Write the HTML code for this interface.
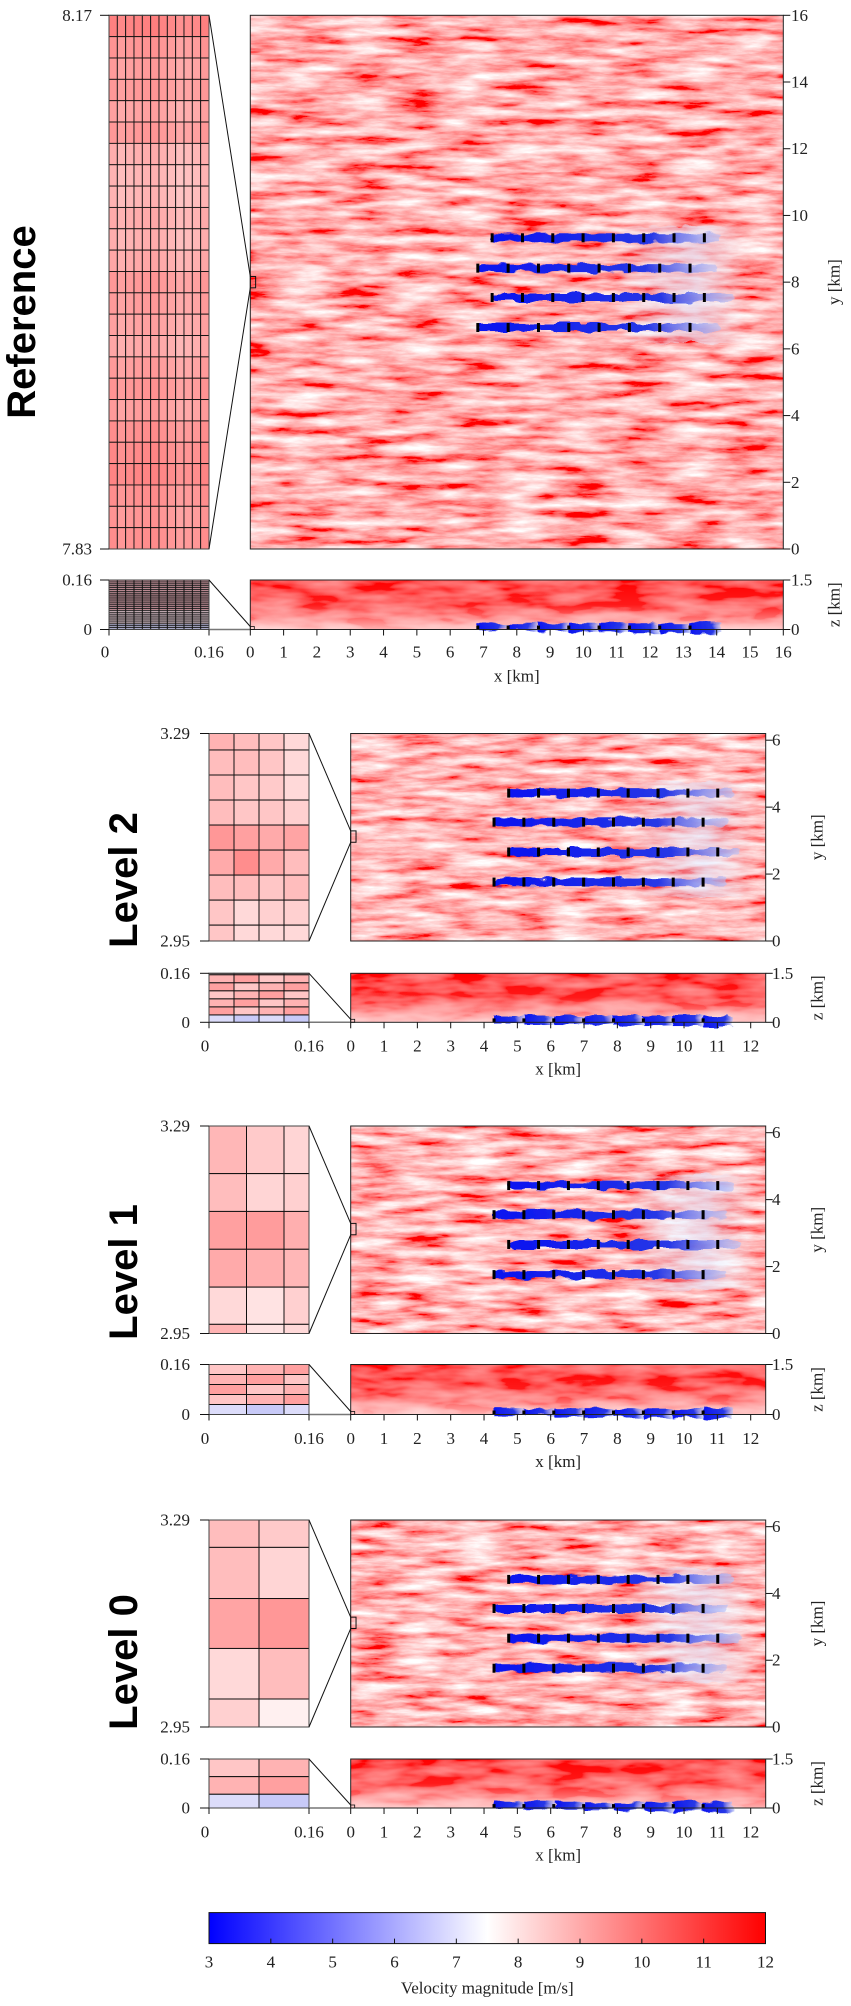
<!DOCTYPE html>
<html><head><meta charset="utf-8">
<style>
html,body{margin:0;padding:0;background:#fff;}
svg{display:block;}
.tk{font-family:"Liberation Serif",serif;font-size:17px;fill:#222;}
.lab{font-family:"Liberation Sans",sans-serif;font-weight:bold;font-size:40px;fill:#000;}
</style></head>
<body>
<svg id="fig" width="851" height="2006" viewBox="0 0 851 2006" xmlns="http://www.w3.org/2000/svg">
<defs>
  <filter id="fieldA" x="0" y="0" width="100%" height="100%" filterUnits="objectBoundingBox">
    <feTurbulence type="fractalNoise" baseFrequency="0.018 0.11" numOctaves="5" seed="3"/>
    <feColorMatrix type="matrix" values="0 0 0 0 1  1.7 0 0 0 -0.42  1.7 0 0 0 -0.42  0 0 0 0 1"/>
  </filter>
  <filter id="fieldB" x="0" y="0" width="100%" height="100%" filterUnits="objectBoundingBox">
    <feTurbulence type="fractalNoise" baseFrequency="0.02 0.12" numOctaves="5" seed="8"/>
    <feColorMatrix type="matrix" values="0 0 0 0 1  1.7 0 0 0 -0.38  1.7 0 0 0 -0.38  0 0 0 0 1"/>
  </filter>
  <filter id="zfield" x="0" y="0" width="100%" height="100%" filterUnits="objectBoundingBox">
    <feTurbulence type="fractalNoise" baseFrequency="0.02 0.08" numOctaves="3" seed="5"/>
    <feColorMatrix type="matrix" values="0 0 0 0 1  0.5 0 0 0 -0.17  0.5 0 0 0 -0.17  0 0 0 0 1"/>
  </filter>
  <filter id="wiggle" x="-5%" y="-100%" width="110%" height="300%">
    <feTurbulence type="fractalNoise" baseFrequency="0.06 0.15" numOctaves="2" seed="2" result="n"/>
    <feDisplacementMap in="SourceGraphic" in2="n" scale="8" xChannelSelector="R" yChannelSelector="G"/>
  </filter>
  <linearGradient id="wakeGrad" x1="0" x2="1" y1="0" y2="0">
    <stop offset="0" stop-color="#0a14f0"/>
    <stop offset="0.7" stop-color="#2838e6"/>
    <stop offset="1" stop-color="#b8c0f6" stop-opacity="0.6"/>
  </linearGradient>
  <linearGradient id="plumeGrad" x1="0" x2="1" y1="0" y2="0">
    <stop offset="0" stop-color="#dfe2fb" stop-opacity="0"/>
    <stop offset="0.6" stop-color="#e4e6fb" stop-opacity="0.8"/>
    <stop offset="1" stop-color="#eef0fc" stop-opacity="0"/>
  </linearGradient>
  <linearGradient id="zbottom" x1="0" x2="0" y1="0" y2="1">
    <stop offset="0" stop-color="#fff" stop-opacity="0"/>
    <stop offset="0.5" stop-color="#fff" stop-opacity="0.1"/>
    <stop offset="1" stop-color="#fff" stop-opacity="0.7"/>
  </linearGradient>
  <linearGradient id="cbar" x1="0" x2="1" y1="0" y2="0">
    <stop offset="0" stop-color="#0000ff"/>
    <stop offset="0.5" stop-color="#ffffff"/>
    <stop offset="1" stop-color="#ff0000"/>
  </linearGradient>
</defs>
<g id="root"></g>
</svg>
<script>
// ---------- data ----------
const refRowVals = [0.62,0.52,0.48,0.5,0.45,0.5,0.38,0.35,0.35,0.4,0.38,0.42,0.5,0.48,0.45,0.42,0.48,0.52,0.48,0.55,0.58,0.6,0.55,0.52,0.55];
const refColVals = [0.05,0.0,0.02,0.04,0.05,0.06,0.03,0.0,-0.04,-0.02,0.0,0.05];
const refZRows = 26;
const lvl2Cells = [[0.4,0.35,0.3,0.2],[0.35,0.35,0.3,0.2],[0.35,0.3,0.28,0.2],[0.35,0.3,0.3,0.25],[0.55,0.5,0.45,0.48],[0.45,0.6,0.45,0.35],[0.35,0.35,0.3,0.35],[0.3,0.2,0.25,0.25],[0.3,0.2,0.2,0.2]];
const lvl2RowEdges = [3.29,3.263,3.222,3.181,3.140,3.099,3.058,3.017,2.976,2.95];
const lvl1Cells = [[0.38,0.28,0.22],[0.35,0.22,0.25],[0.5,0.52,0.42],[0.45,0.42,0.38],[0.2,0.15,0.25],[0.4,0.15,0.2]];
const lvl1RowEdges = [3.29,3.212,3.150,3.088,3.026,2.965,2.95];
const lvl0Cells = [[0.35,0.28],[0.35,0.22],[0.48,0.55],[0.2,0.35],[0.25,0.08]];
const lvl0RowEdges = [3.29,3.245,3.161,3.079,2.996,2.95];
const refTurbRows = [9.33,8.42,7.54,6.64];
const refTurbStart = [7.26,6.83,7.26,6.83];
const refWakeEnd = [14.1,14.0,14.5,14.1];
const lvlTurbRows = [4.42,3.55,2.66,1.76];
const lvlTurbStart = [4.74,4.3,4.74,4.3];
const lvlWakeEnd = [11.5,11.3,11.7,11.3];
const turbCount = 8;
const refSpacing = 0.91;
const lvlSpacing = 0.896;
const cbarTicks = [3,4,5,6,7,8,9,10,11,12];
const refXTicks = [0,1,2,3,4,5,6,7,8,9,10,11,12,13,14,15,16];
const refYTicks = [0,2,4,6,8,10,12,14,16];
const lvlXTicks = [0,1,2,3,4,5,6,7,8,9,10,11,12];
const lvlYTicks = [0,2,4,6];

const NS="http://www.w3.org/2000/svg";
const root=document.getElementById('root');
function mk(tag,attrs,parent){const e=document.createElementNS(NS,tag);for(const k in attrs)e.setAttribute(k,attrs[k]);(parent||root).appendChild(e);return e;}
function txt(s,x,y,cls,anchor,parent){const t=mk('text',{x:x,y:y,'class':cls,'text-anchor':anchor||'middle','dominant-baseline':'central'},parent);t.textContent=s;return t;}
function pink(v){const g=Math.round(255-v*190);return `rgb(255,${g},${g})`;}

const panels=[
 {name:'reference',label:'Reference',lx:22,ly:322,ix:109,iw:100,mx:250.3,mw:533,xmax:16,ymax:16,top:15.3,bot:549,ztop:580,zbot:629.5,tky:652,xly:676,yl0:'7.83',yl1:'8.17',ylx:92,rlx:791,ytx:834,xt:refXTicks,yt:refYTicks,rows:refTurbRows,start:refTurbStart,end:refWakeEnd,sp:refSpacing,cy:8,filt:'fieldA'},
 {name:'level-2',label:'Level 2',lx:124,ly:880,ix:209,iw:100,mx:350.7,mw:415,xmax:12.45,ymax:6.2,top:733.5,bot:941,ztop:973.3,zbot:1022.3,tky:1046,xly:1069,yl0:'2.95',yl1:'3.29',ylx:190,rlx:772,ytx:817,xt:lvlXTicks,yt:lvlYTicks,rows:lvlTurbRows,start:lvlTurbStart,end:lvlWakeEnd,sp:lvlSpacing,cy:3.12,cells:lvl2Cells,edges:lvl2RowEdges,zrows:[0.03,0.16,0.16,0.16,0.16,0.16],filt:'fieldB'},
 {name:'level-1',label:'Level 1',lx:124,ly:1272,ix:209,iw:100,mx:350.7,mw:415,xmax:12.45,ymax:6.2,top:1126,bot:1333.5,ztop:1364.5,zbot:1414.5,tky:1438.5,xly:1461.5,yl0:'2.95',yl1:'3.29',ylx:190,rlx:772,ytx:817,xt:lvlXTicks,yt:lvlYTicks,rows:lvlTurbRows,start:lvlTurbStart,end:lvlWakeEnd,sp:lvlSpacing,cy:3.12,cells:lvl1Cells,edges:lvl1RowEdges,cols:[0.375,0.75],zrows:[0.2,0.2,0.2,0.2],filt:'fieldB'},
 {name:'level-0',label:'Level 0',lx:124,ly:1662,ix:209,iw:100,mx:350.7,mw:415,xmax:12.45,ymax:6.2,top:1520,bot:1727,ztop:1759,zbot:1808,tky:1832,xly:1855,yl0:'2.95',yl1:'3.29',ylx:190,rlx:772,ytx:817,xt:lvlXTicks,yt:lvlYTicks,rows:lvlTurbRows,start:lvlTurbStart,end:lvlWakeEnd,sp:lvlSpacing,cy:3.12,cells:lvl0Cells,edges:lvl0RowEdges,zrows:[0.35,0.35],filt:'fieldB'}
];

panels.forEach(p=>{
  const g=mk('g',{});
  
  
  const X=v=>p.mx+v/p.xmax*p.mw;
  const Y=v=>p.bot-v/p.ymax*(p.bot-p.top);
  const Z=v=>p.zbot-v/1.5*(p.zbot-p.ztop);
  const lt=mk('text',{x:p.lx,y:p.ly,'class':'lab','text-anchor':'middle','dominant-baseline':'central',transform:`rotate(-90 ${p.lx} ${p.ly})`},g);
  lt.textContent=p.label;
  
  
  const mf=mk('g',{},g);
  
  
  mk('rect',{x:p.mx,y:p.top,width:p.mw,height:p.bot-p.top,fill:'#f88',filter:`url(#${p.filt})`},mf);
  const pyTop=Y(p.rows[0]+0.35), pyBot=Y(p.rows[3]-0.45);
  const ps=p.start[0]+4*p.sp, pe=p.end[2]+0.5;
  mk('rect',{x:X(ps),y:pyTop,width:X(pe)-X(ps),height:pyBot-pyTop,rx:12,fill:'url(#plumeGrad)',filter:'url(#wiggle)',opacity:0.8},mf);
  p.rows.forEach((ry,i)=>{
    const x0=X(p.start[i]),x1=X(p.end[i]);
    const w=mk('rect',{x:x0,y:Y(ry)-4,width:x1-x0,height:8,rx:3,fill:'url(#wakeGrad)',filter:'url(#wiggle)'},mf);
    
    
    for(let k=0;k<turbCount;k++){
      const tb=mk('rect',{x:X(p.start[i]+k*p.sp)-1.5,y:Y(ry)-4.5,width:3,height:9,fill:'#000'},mf);
      
      
    }
  });
  mk('rect',{x:p.mx,y:p.top,width:p.mw,height:p.bot-p.top,fill:'none',stroke:'#222','stroke-width':1},mf);
  const zf=mk('g',{},g);
  
  
  mk('rect',{x:p.mx,y:p.ztop,width:p.mw,height:p.zbot-p.ztop,fill:'#f22',filter:'url(#zfield)'},zf);
  mk('rect',{x:p.mx,y:p.ztop,width:p.mw,height:p.zbot-p.ztop,fill:'url(#zbottom)'},zf);
  for(let k=0;k<turbCount;k++){
    const x0=X(p.start[1]+k*p.sp);
    mk('rect',{x:x0,y:Z(0.1)-3,width:X(p.sp)-p.mx,height:7+k*0.5,fill:'url(#wakeGrad)',filter:'url(#wiggle)'},zf);
  }
  for(let k=0;k<turbCount;k++){
    const tb=mk('rect',{x:X(p.start[1]+k*p.sp)-1.5,y:Z(0.12),width:3,height:Z(0)-Z(0.12),fill:'#000'},zf);
    
    
  }
  mk('rect',{x:p.mx,y:p.ztop,width:p.mw,height:p.zbot-p.ztop,fill:'none',stroke:'#222','stroke-width':1},zf);
  const ig=mk('g',{},g);
  
  
  const IY=v=>p.bot-(v-parseFloat(p.yl0))/(parseFloat(p.yl1)-parseFloat(p.yl0))*(p.bot-p.top);
  if(!p.cells){
    const rh=(p.bot-p.top)/refRowVals.length, cw=p.iw/refColVals.length;
    refRowVals.forEach((rv,r)=>refColVals.forEach((cv,c)=>{
      mk('rect',{x:p.ix+c*cw,y:p.top+r*rh,width:cw,height:rh,fill:pink(rv+cv),stroke:'#111','stroke-width':0.9},ig);
    }));
  } else {
    const nc=p.cells[0].length;
    const cedges=[0].concat(p.cols||Array.from({length:nc-1},(_,i)=>(i+1)/nc)).concat([1]);
    p.cells.forEach((row,r)=>row.forEach((v,c)=>{
      const y0=IY(p.edges[r]),y1=IY(p.edges[r+1]);
      mk('rect',{x:p.ix+cedges[c]*p.iw,y:y0,width:(cedges[c+1]-cedges[c])*p.iw,height:y1-y0,fill:pink(v),stroke:'#111','stroke-width':1},ig);
    }));
  }
  mk('rect',{x:p.ix,y:p.top,width:p.iw,height:p.bot-p.top,fill:'none',stroke:'#444','stroke-width':1},ig);
  const iz=mk('g',{},g);
  
  
  const zh=p.zbot-p.ztop;
  if(!p.cells){
    const rh=zh/refZRows, cw=p.iw/refColVals.length;
    for(let r=0;r<refZRows;r++){
      const f=r/refZRows;
      const col=f>0.85?'#a8a8c8':(f>0.6?'#c8b0b8':'#b88890');
      mk('rect',{x:p.ix,y:p.ztop+r*rh,width:p.iw,height:rh,fill:col,stroke:'#222','stroke-width':0.8},iz);
    }
    for(let c=1;c<refColVals.length;c++) mk('line',{x1:p.ix+c*cw,x2:p.ix+c*cw,y1:p.ztop,y2:p.zbot,stroke:'#111','stroke-width':1},iz);
  } else {
    const nc=p.cells[0].length;
    const cedges=[0].concat(p.cols||Array.from({length:nc-1},(_,i)=>(i+1)/nc)).concat([1]);
    const blueH=zh*(p.name==='level-0'?0.28:(p.name==='level-1'?0.2:0.15));
    const redH=zh-blueH;
    let y=p.ztop;
    p.zrows.forEach((fr,r)=>{
      const h=redH*fr/p.zrows.reduce((a,b)=>a+b,0);
      for(let c=0;c<nc;c++) mk('rect',{x:p.ix+cedges[c]*p.iw,y:y,width:(cedges[c+1]-cedges[c])*p.iw,height:h,fill:pink(0.3+0.1*((c+r)%3)),stroke:'#111','stroke-width':1},iz);
      y+=h;
    });
    for(let c=0;c<nc;c++) mk('rect',{x:p.ix+cedges[c]*p.iw,y:y,width:(cedges[c+1]-cedges[c])*p.iw,height:blueH,fill:c%2?'#c8caf8':'#dcdcfa',stroke:'#111','stroke-width':1},iz);
  }
  mk('rect',{x:p.ix,y:p.ztop,width:p.iw,height:zh,fill:'none',stroke:'#444','stroke-width':1},iz);
  mk('line',{x1:p.ix+p.iw,x2:p.mx,y1:p.zbot,y2:p.zbot,stroke:'#777','stroke-width':1.5},g);
  const ry0=Y(p.cy+0.17),ry1=Y(p.cy-0.17),rw=X(0.16)-p.mx;
  mk('rect',{x:p.mx,y:ry0,width:Math.max(rw,4),height:ry1-ry0,fill:'none',stroke:'#111','stroke-width':1},g);
  mk('line',{x1:p.ix+p.iw,y1:p.top,x2:p.mx,y2:ry0,stroke:'#111','stroke-width':1},g);
  mk('line',{x1:p.ix+p.iw,y1:p.bot,x2:p.mx,y2:ry1,stroke:'#111','stroke-width':1},g);
  mk('rect',{x:p.mx,y:p.zbot-3,width:4,height:3,fill:'none',stroke:'#111','stroke-width':0.8},g);
  mk('line',{x1:p.ix+p.iw,y1:p.ztop,x2:p.mx,y2:p.zbot-3,stroke:'#111','stroke-width':1},g);
  const ax=mk('g',{},g);
  
  
  [[p.top,p.yl1],[p.bot,p.yl0],[p.ztop,'0.16'],[p.zbot,'0']].forEach(([yy,s])=>{
    mk('line',{x1:p.ix-9,x2:p.ix,y1:yy,y2:yy,stroke:'#111','stroke-width':1},ax);
    txt(s,p.ylx,yy,'tk','end',ax);
  });
  [[p.ix,'0'],[p.ix+p.iw,'0.16']].forEach(([xx,s])=>{
    mk('line',{x1:xx,x2:xx,y1:p.zbot,y2:p.zbot+6,stroke:'#111','stroke-width':1},ax);
    txt(s,xx-(s==='0'?4:0),p.tky,'tk','middle',ax);
  });
  p.xt.forEach(v=>{
    mk('line',{x1:X(v),x2:X(v),y1:p.zbot,y2:p.zbot+6,stroke:'#111','stroke-width':1},ax);
    txt(String(v),X(v),p.tky,'tk','middle',ax);
  });
  const xl=txt('x [km]',X(p.xmax/2),p.xly,'tk','middle',ax);
  
  
  p.yt.forEach(v=>{
    mk('line',{x1:p.mx+p.mw,x2:p.mx+p.mw+7,y1:Y(v),y2:Y(v),stroke:'#111','stroke-width':1},ax);
    txt(String(v),p.rlx,Y(v),'tk','start',ax);
  });
  [[p.ztop,'1.5'],[p.zbot,'0']].forEach(([yy,s])=>{
    mk('line',{x1:p.mx+p.mw,x2:p.mx+p.mw+7,y1:yy,y2:yy,stroke:'#111','stroke-width':1},ax);
    txt(s,p.rlx,yy,'tk','start',ax);
  });
  const yc=(p.top+p.bot)/2, zc=(p.ztop+p.zbot)/2;
  const yl=mk('text',{x:p.ytx,y:yc,'class':'tk','text-anchor':'middle','dominant-baseline':'central',transform:`rotate(-90 ${p.ytx} ${yc})`},ax);
  yl.textContent='y [km]';
  
  
  const zl=mk('text',{x:p.ytx,y:zc,'class':'tk','text-anchor':'middle','dominant-baseline':'central',transform:`rotate(-90 ${p.ytx} ${zc})`},ax);
  zl.textContent='z [km]';
  
  
});

const cb=mk('g',{});


const cbx=209,cbw=556.5,cby=1912.6,cbh=31;
const CX=v=>cbx+(v-3)/9*cbw;
mk('rect',{x:cbx,y:cby,width:cbw,height:cbh,fill:'url(#cbar)',stroke:'#111','stroke-width':1},cb);
cbarTicks.forEach(v=>{
  mk('line',{x1:CX(v),x2:CX(v),y1:cby+cbh,y2:cby+cbh-5,stroke:'#111','stroke-width':1},cb);
  const t=txt(String(v),CX(v),1962,'tk','middle',cb);
  t.setAttribute('font-size','18');
});
const ct=txt('Velocity magnitude [m/s]',CX(7.5),1988,'tk','middle',cb);


</script>
</body></html>
